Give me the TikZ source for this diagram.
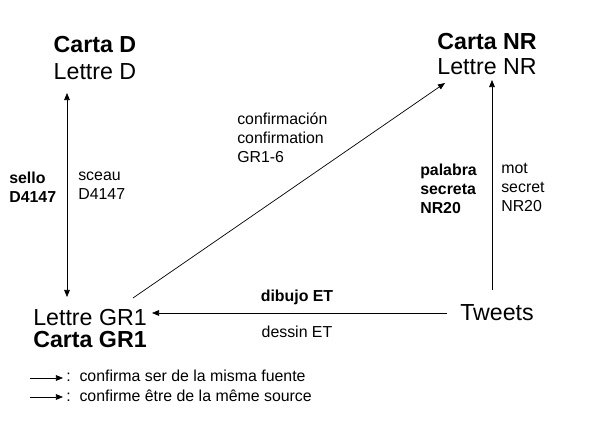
\documentclass[tikz,border=0pt]{standalone}
\usepackage{fontspec}
\setmainfont{Liberation Sans}
\usetikzlibrary{arrows.meta}
\begin{document}
\begin{tikzpicture}[x=0.025cm, y=-0.025cm]
    \tikzstyle{big} = [font=\fontsize{16.5}{18}\selectfont, inner sep=0pt]
    \tikzstyle{small} = [font=\fontsize{11.3}{13.5}\selectfont, inner sep=0pt, align=left]
    \tikzstyle{link} = [-{Triangle[length=5pt, width=4pt]}, line width=0.5pt]
    \useasboundingbox (0,0) rectangle (600,426);

    % Letters
    \node [big] (cartaD) at (95,45) {\bfseries Carta D};
    \node [big] (lettreD) at (95,72) {Lettre D};
    \node [big] (cartaNR) at (487,42) {\bfseries Carta NR};
    \node [big] (lettreNR) at (487,67) {Lettre NR};
    \node [big] (lettreGR) at (90,318) {Lettre GR1};
    \node [big] (cartaGR) at (90,340) {\bfseries Carta GR1};
    \node [big] (tweets) at (497,313) {Tweets};

    % Connections
    \coordinate (dTop) at (67,93);
    \coordinate (dBot) at (67,297);
    \draw [link, {Triangle[length=5pt, width=4pt]}-{Triangle[length=5pt, width=4pt]}] (dTop) -- (dBot);
    \draw [link] (447,313) -- (152,313);
    \draw [link] (492,290) -- (492,80);
    \draw [link] (133,298) -- (445,83);

    % Labels
    \node [small, anchor=west] (sello) at (9,187) {\bfseries sello\\\bfseries D4147};
    \node [small, anchor=west] (sceau) at (78,186) {sceau\\D4147};
    \node [small, anchor=west] (palabra) at (420,189) {\bfseries palabra\\\bfseries secreta\\\bfseries NR20};
    \node [small, anchor=west] (mot) at (501,187) {mot\\secret\\NR20};
    \node [small, anchor=west] (conf) at (237,138) {confirmación\\confirmation\\GR1-6};
    \node [small] (dibujo) at (297,297) {\bfseries dibujo ET};
    \node [small] (dessin) at (297,332) {dessin ET};

    % Legend
    \coordinate (l1a) at (30,378); \coordinate (l1b) at (63,378);
    \coordinate (l2a) at (30,397); \coordinate (l2b) at (63,397);
    \draw [link] (l1a) -- (l1b);
    \draw [link] (l2a) -- (l2b);
    \node [small, anchor=west] at (66,376) {:\ \ confirma ser de la misma fuente};
    \node [small, anchor=west] at (66,396) {:\ \ confirme être de la même source};
\end{tikzpicture}
\end{document}
